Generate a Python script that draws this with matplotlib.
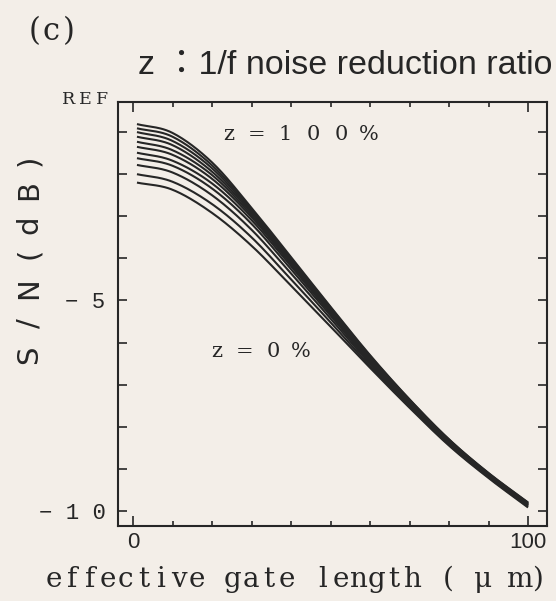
import numpy as np
import matplotlib
matplotlib.use('Agg')
import matplotlib.pyplot as plt
from matplotlib.ticker import FixedLocator

gate_length = [1, 10, 20, 30, 40, 50, 60, 70, 80, 90, 100]

# S/N relative to REF (dB), one list per 1/f noise reduction ratio z
sn_z100 = [-0.81, -1.02, -1.72, -2.80, -3.97, -5.15, -6.30, -7.35, -8.30, -9.10, -9.80]
sn_z90 = [-0.91, -1.11, -1.79, -2.84, -4.00, -5.17, -6.32, -7.36, -8.31, -9.11, -9.81]
sn_z80 = [-1.00, -1.21, -1.86, -2.88, -4.03, -5.19, -6.34, -7.38, -8.32, -9.12, -9.82]
sn_z70 = [-1.11, -1.31, -1.94, -2.92, -4.06, -5.21, -6.36, -7.39, -8.33, -9.13, -9.83]
sn_z60 = [-1.23, -1.43, -2.02, -2.97, -4.10, -5.24, -6.39, -7.41, -8.35, -9.14, -9.84]
sn_z50 = [-1.35, -1.54, -2.11, -3.02, -4.14, -5.27, -6.42, -7.43, -8.36, -9.15, -9.85]
sn_z40 = [-1.49, -1.68, -2.22, -3.09, -4.19, -5.31, -6.45, -7.45, -8.37, -9.16, -9.86]
sn_z30 = [-1.62, -1.80, -2.34, -3.18, -4.26, -5.36, -6.47, -7.47, -8.39, -9.17, -9.87]
sn_z20 = [-1.78, -1.96, -2.50, -3.32, -4.36, -5.43, -6.51, -7.49, -8.40, -9.18, -9.88]
sn_z10 = [-2.00, -2.18, -2.71, -3.50, -4.50, -5.52, -6.56, -7.52, -8.43, -9.20, -9.90]
sn_z0 = [-2.20, -2.37, -2.92, -3.70, -4.65, -5.62, -6.60, -7.55, -8.45, -9.22, -9.92]

curves = [sn_z0, sn_z10, sn_z20, sn_z30, sn_z40, sn_z50,
          sn_z60, sn_z70, sn_z80, sn_z90, sn_z100]

x_ticks = [0, 100]
x_tick_labels = ['0', '100']
x_minor = [10, 20, 30, 40, 50, 60, 70, 80, 90]
y_ticks = [-10, -5]
y_tick_labels = ['\u2212 1 0', '\u2212 5']
y_minor = [-9, -8, -7, -6, -4, -3, -2, -1]

PAPER = '#f3eee8'
INK = '#262626'
W, H = 556, 601
SERIF = 'DejaVu Serif'


def smooth(xs, ys, n=24):
    """Catmull-Rom pass through the read points, only to draw a smooth line"""
    p = np.column_stack([xs, ys]).astype(float)
    p = np.vstack([2 * p[0] - p[1], p, 2 * p[-1] - p[-2]])
    out = []
    t = np.linspace(0, 1, n, endpoint=False)[:, None]
    for i in range(1, len(p) - 2):
        p0, p1, p2, p3 = p[i - 1], p[i], p[i + 1], p[i + 2]
        seg = 0.5 * ((2 * p1) + (-p0 + p2) * t
                     + (2 * p0 - 5 * p1 + 4 * p2 - p3) * t ** 2
                     + (-p0 + 3 * p1 - 3 * p2 + p3) * t ** 3)
        out.append(seg)
    out.append(p[-2][None, :])
    out = np.vstack(out)
    return out[:, 0], out[:, 1]


def typewriter(fig, x0, base, text, pitch, size, family=SERIF):
    """Lay out text on a fixed pitch, like the old typewriter labels (pixels)"""
    for i, ch in enumerate(text):
        if ch == ' ':
            continue
        fig.text((x0 + (i + 0.5) * pitch) / W, 1 - base / H, ch,
                 family=family, fontsize=size, ha='center', va='baseline',
                 color=INK)


fig = plt.figure(figsize=(W / 100, H / 100), dpi=100, facecolor=PAPER)
ax = fig.add_axes([118 / W, 1 - 526 / H, (547 - 118) / W, (526 - 102) / H])
ax.set_facecolor(PAPER)

for ys in curves:
    sx, sy = smooth(gate_length, ys)
    ax.plot(sx, sy, color=INK, lw=1.5, solid_capstyle='butt')

ax.set_xlim(-3.8, 104.8)
ax.set_ylim(-10.36, -0.285)

for s in ax.spines.values():
    s.set_linewidth(1.5)
    s.set_color(INK)

ax.xaxis.set_major_locator(FixedLocator(x_ticks))
ax.xaxis.set_minor_locator(FixedLocator(x_minor))
ax.set_xticklabels(x_tick_labels)
ax.yaxis.set_major_locator(FixedLocator(y_ticks))
ax.yaxis.set_minor_locator(FixedLocator(y_minor))
ax.set_yticklabels(y_tick_labels)

ax.tick_params(axis='x', which='major', direction='in', length=7, width=1.2,
               top=True, bottom=True, color=INK, pad=4)
ax.tick_params(axis='x', which='minor', direction='in', length=3.5, width=1.2,
               top=True, bottom=True, color=INK)
ax.tick_params(axis='y', which='both', direction='in', length=6.5, width=1.2,
               left=True, right=True, color=INK, pad=9)
for lab in ax.get_xticklabels():
    lab.set_fontfamily('Liberation Sans')
    lab.set_fontsize(16)
    lab.set_color(INK)
for lab in ax.get_yticklabels():
    lab.set_fontfamily('Liberation Mono')
    lab.set_fontsize(16)
    lab.set_color(INK)

# panel letter, REF mark and axis title in typewriter style
typewriter(fig, 26, 40, '(c)', 17, 22)
typewriter(fig, 60, 104, 'REF', 17, 12.5)
typewriter(fig, 45, 587, 'effective gate length ( \u03bc m)', 17.9, 20)

# y label, rotated glyph by glyph
for ch, yc in zip('S/N(dB)', [355, 323, 288, 253, 225, 190, 160]):
    fig.text(37 / W, 1 - yc / H, ch, family='DejaVu Sans', fontsize=21,
             rotation=90, rotation_mode='anchor', ha='center', va='baseline',
             color=INK)

fig.text(138 / W, 1 - 66 / H, 'z \uff1a1/f noise reduction ratio',
         family=['Liberation Sans', 'Noto Sans CJK JP'], fontsize=24.5,
         ha='left', va='center', color=INK)

# curve annotations
typewriter(fig, 222, 140, 'z = 1 0 0 %', 14, 15)
typewriter(fig, 210, 357, 'z = 0 %', 14, 15)

fig.savefig('out.png', dpi=100, facecolor=PAPER)
